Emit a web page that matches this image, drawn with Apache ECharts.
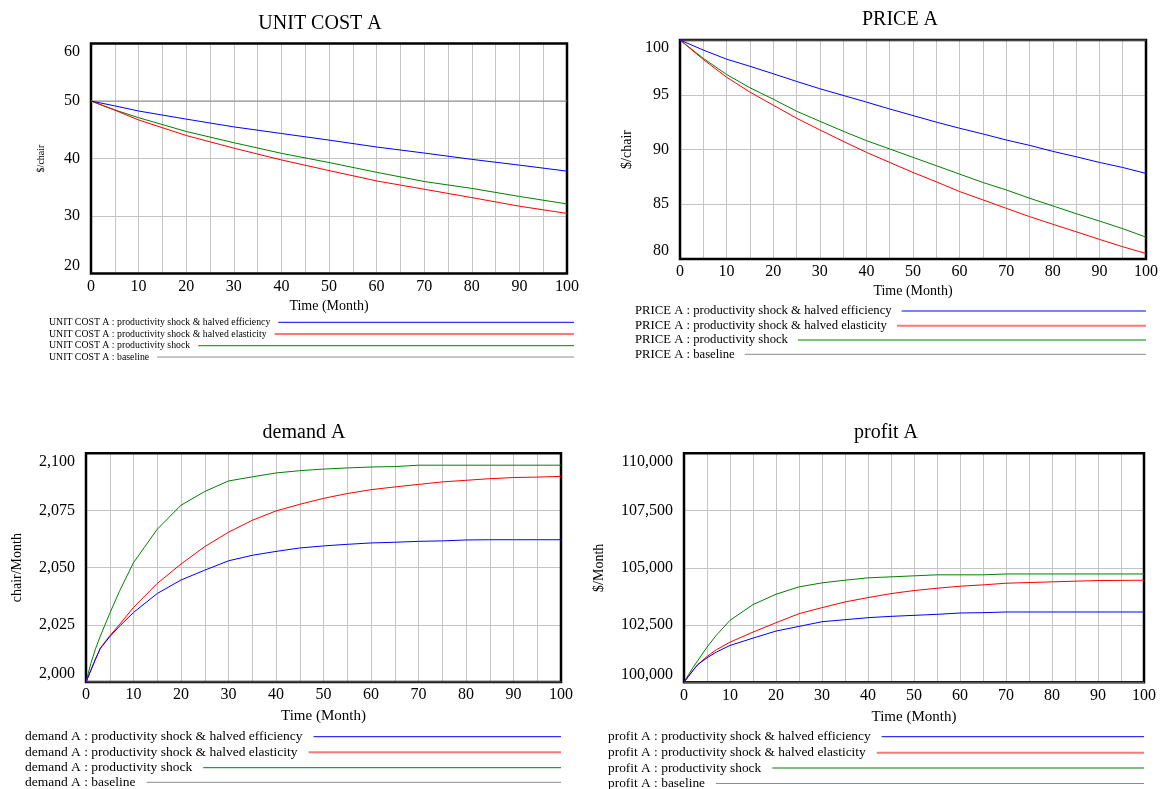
<!DOCTYPE html>
<html><head><meta charset="utf-8">
<script src="https://cdn.jsdelivr.net/npm/echarts@6/dist/echarts.min.js"></script>
<style>html,body{margin:0;padding:0;background:#fff}#c{width:1162px;height:789px}</style>
</head><body><div id="c"></div>
<script>
// ---------- DATA ----------
const scenarios = [
  'productivity shock & halved efficiency',
  'productivity shock & halved elasticity',
  'productivity shock',
  'baseline'
];
const xTicks = [0,10,20,30,40,50,60,70,80,90,100];

// UNIT COST A
const costMonths = [0,5,10,20,30,40,50,60,70,80,90,100];
const unitCostEfficiency = [50.0,49.15,48.26,46.85,45.5,44.35,43.2,42.0,40.95,39.85,38.85,37.8];
const unitCostElasticity = [50.0,48.4,46.7,44.0,41.8,39.75,37.9,36.1,34.65,33.2,31.7,30.45];
const unitCostShock      = [50.0,48.45,47.1,44.7,42.75,40.9,39.3,37.6,36.0,34.8,33.4,32.1];
const unitCostBaseline   = [50.0,50.0,50.0,50.0,50.0,50.0,50.0,50.0,50.0,50.0,50.0,50.0];
const unitCostTicks = [20,30,40,50,60];

// PRICE A
const priceMonths = [0,5,10,15,20,25,30,35,40,45,50,55,60,65,70,75,80,85,90,95,100];
const priceEfficiency = [100,99.08,98.25,97.6,96.92,96.22,95.55,94.94,94.33,93.7,93.1,92.5,91.94,91.42,90.87,90.38,89.83,89.34,88.82,88.36,87.81];
const priceElasticity = [100,98.22,96.6,95.24,94.05,92.86,91.79,90.75,89.74,88.82,87.9,87.05,86.16,85.4,84.63,83.87,83.17,82.49,81.79,81.12,80.5];
const priceShock      = [100,98.32,96.85,95.64,94.6,93.5,92.58,91.67,90.81,90.05,89.28,88.52,87.75,86.99,86.31,85.55,84.85,84.14,83.47,82.77,82.0];
const priceBaseline   = [100,100,100,100,100,100,100,100,100,100,100,100,100,100,100,100,100,100,100,100,100];
const priceTicks = [80,85,90,95,100];

// demand A and profit A
const curveMonths = [0,1,2,3,5,7,10,15,20,25,30,35,40,45,50,55,60,65,70,75,80,85,90,95,100];
const demandEfficiency = [2000,2005.0,2010.0,2014.6,2019.8,2024.3,2030.4,2038.7,2044.6,2048.9,2053.0,2055.4,2057.1,2058.6,2059.5,2060.2,2060.8,2061.1,2061.5,2061.7,2062.1,2062.2,2062.2,2062.2,2062.2];
const demandElasticity = [2000,2005.0,2010.0,2014.8,2020.2,2025.0,2032.6,2043.1,2051.6,2059.2,2065.5,2070.7,2074.8,2077.7,2080.3,2082.4,2084.1,2085.3,2086.4,2087.5,2088.2,2088.9,2089.4,2089.6,2089.9];
const demandShock      = [2000,2008.0,2014.5,2020.0,2030.0,2039.5,2052.2,2066.8,2077.3,2083.3,2087.9,2089.7,2091.4,2092.4,2093.1,2093.6,2094.0,2094.2,2094.8,2094.8,2094.8,2094.8,2094.8,2094.8,2094.8];
const demandBaseline   = [2000,2000,2000,2000,2000,2000,2000,2000,2000,2000,2000,2000,2000,2000,2000,2000,2000,2000,2000,2000,2000,2000,2000,2000,2000];
const demandTicks = [2000,2025,2050,2075,2100];

const profitEfficiency = [100000,100270,100530,100775,101067,101316,101608,101930,102237,102442,102646,102734,102822,102880,102924,102968,103026,103041,103070,103070,103070,103070,103070,103070,103070];
const profitElasticity = [100000,100270,100530,100775,101126,101418,101754,102193,102602,102997,103260,103509,103699,103874,104006,104108,104196,104254,104327,104357,104386,104415,104444,104450,104459];
const profitShock      = [100000,100340,100660,100950,101535,102047,102705,103392,103845,104167,104342,104459,104561,104605,104649,104693,104693,104693,104730,104730,104730,104730,104730,104730,104730];
const profitBaseline   = [100000,100000,100000,100000,100000,100000,100000,100000,100000,100000,100000,100000,100000,100000,100000,100000,100000,100000,100000,100000,100000,100000,100000,100000,100000];
const profitTicks = [100000,102500,105000,107500,110000];

// ---------- STYLE / LAYOUT ----------
const FONT = "'Liberation Serif', 'Times New Roman', serif";
const colors = ['#0000ff', '#ff0000', '#008000', '#8c8c8c'];
const legendColors = ['#0000ff', '#ff7878', '#008000', '#8c8c8c'];
const legendWidths = [1, 2, 1, 1];

const charts = [
  { title:'UNIT COST A', yName:'$/chair', months:costMonths, ticks:unitCostTicks,
    series:[unitCostEfficiency, unitCostElasticity, unitCostShock, unitCostBaseline], sep:false,
    L:{ grid:{left:91, top:43.5, width:476, height:230}, tx:315, ty:9,
        yNameSize:10, yNameGap:45, xNameSize:14, xNameGap:26,
        lx:49, ly:[322.3,334,345.7,357], lsize:9.8, lgap:8, lend:574 } },
  { title:'PRICE A', yName:'$/chair', months:priceMonths, ticks:priceTicks,
    series:[priceEfficiency, priceElasticity, priceShock, priceBaseline], sep:false,
    L:{ grid:{left:680, top:40, width:466, height:219}, tx:895, ty:5,
        yNameSize:14, yNameGap:46, xNameSize:14, xNameGap:25,
        lx:635, ly:[311,325.7,340,354.3], lsize:12.7, lgap:10, lend:1146 } },
  { title:'demand A', yName:'chair/Month', months:curveMonths, ticks:demandTicks,
    series:[demandEfficiency, demandElasticity, demandShock, demandBaseline], sep:true,
    L:{ grid:{left:86, top:453.3, width:475, height:228.7}, tx:299, ty:418,
        yNameSize:14, yNameGap:62, xNameSize:15, xNameGap:27,
        lx:25, ly:[736.7,752.3,767.7,782.3], lsize:13.5, lgap:11, lend:561 } },
  { title:'profit A', yName:'$/Month', months:curveMonths, ticks:profitTicks,
    series:[profitEfficiency, profitElasticity, profitShock, profitBaseline], sep:true,
    L:{ grid:{left:684, top:453.3, width:460, height:229}, tx:881, ty:418,
        yNameSize:14, yNameGap:78, xNameSize:15, xNameGap:27,
        lx:608, ly:[736.7,752.7,768,783.5], lsize:13.4, lgap:11, lend:1144 } }
];

const measure = document.createElement('canvas').getContext('2d');
function textW(s, size){ measure.font = size + "px 'Liberation Serif'"; return measure.measureText(s).width; }

const option = { animation:false, backgroundColor:'#fff',
  title:[], grid:[], xAxis:[], yAxis:[], series:[], graphic:[] };

charts.forEach((c, ci) => {
  const L = c.L;
  option.title.push({ text:c.title, left:L.tx, top:L.ty, textAlign:'center',
    textStyle:{ fontFamily:FONT, fontSize:20, fontWeight:'normal', color:'#000' } });
  option.grid.push(Object.assign({ show:true, borderColor:'#000', borderWidth:2.5,
    backgroundColor:'transparent', containLabel:false, outerBoundsMode:'none', z:3 }, L.grid));
  option.xAxis.push({ type:'value', gridIndex:ci, min:xTicks[0], max:xTicks[xTicks.length-1], interval:5,
    name:'Time (Month)', nameLocation:'middle', nameGap:L.xNameGap,
    nameTextStyle:{ fontFamily:FONT, fontSize:L.xNameSize, color:'#000' },
    axisLine:{show:false}, axisTick:{show:false},
    axisLabel:{ fontFamily:FONT, fontSize:16, color:'#000', margin:5,
      formatter:v => xTicks.indexOf(v) >= 0 ? String(v) : '' },
    splitLine:{ show:true, showMinLine:false, showMaxLine:false, lineStyle:{ color:'#c4c4c4', width:1 } } });
  const t = c.ticks;
  option.yAxis.push({ type:'value', gridIndex:ci, min:t[0], max:t[t.length-1], interval:t[1]-t[0],
    name:c.yName, nameLocation:'middle', nameGap:L.yNameGap, nameRotate:90,
    nameTextStyle:{ fontFamily:FONT, fontSize:L.yNameSize, color:'#000' },
    axisLine:{show:false}, axisTick:{show:false},
    axisLabel:{ fontFamily:FONT, fontSize:16, color:'#000', margin:11,
      verticalAlignMinLabel:'bottom', verticalAlignMaxLabel:'top',
      formatter:v => c.sep ? v.toLocaleString('en-US') : String(v) },
    splitLine:{ show:true, showMinLine:false, showMaxLine:false, lineStyle:{ color:'#c4c4c4', width:1 } } });
  // draw baseline first, blue last (on top)
  [3,2,1,0].forEach(si => {
    option.series.push({ type:'line', name:c.title + ' : ' + scenarios[si],
      xAxisIndex:ci, yAxisIndex:ci, showSymbol:false, symbol:'none',
      data:c.months.map((m,i) => [m, c.series[si][i]]),
      lineStyle:{ color:colors[si], width:1 }, itemStyle:{color:colors[si]} });
  });
  // legend rows (Vensim style: text then line to right edge)
  scenarios.forEach((s, si) => {
    const label = c.title + ' : ' + s;
    const w = textW(label, L.lsize);
    option.graphic.push({ type:'text', x:L.lx, y:L.ly[si], silent:true,
      style:{ text:label, fontFamily:FONT, fontSize:L.lsize, fill:'#000',
        align:'left', verticalAlign:'middle' } });
    option.graphic.push({ type:'line', silent:true,
      shape:{ x1:L.lx + w + L.lgap, y1:L.ly[si], x2:L.lend, y2:L.ly[si] },
      style:{ stroke:legendColors[si], lineWidth:legendWidths[si] } });
  });
});

const chart = echarts.init(document.getElementById('c'), null, {renderer:'canvas'});
chart.setOption(option);
</script>
</body></html>
